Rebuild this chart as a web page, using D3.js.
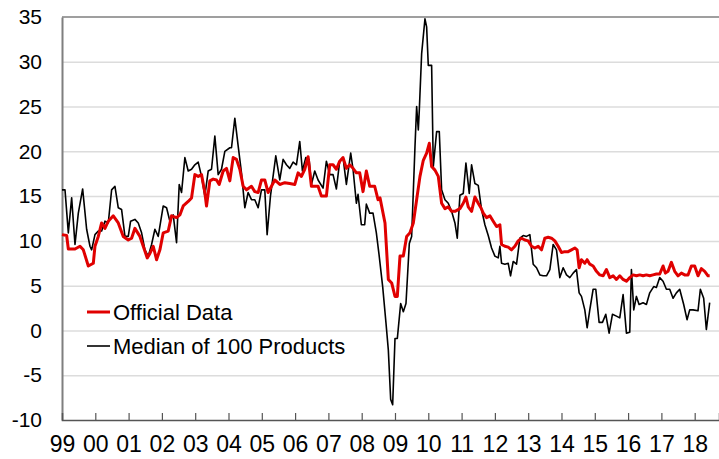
<!DOCTYPE html>
<html>
<head>
<meta charset="utf-8">
<script src="https://cdn.jsdelivr.net/npm/d3@7"></script>
<style>
  body { margin: 0; background: #fff; }
  svg text { font-family: "Liberation Sans", Arial, sans-serif; fill: #000; }
</style>
</head>
<body>
<script>
const w = 719;
const h = 459;

// y ticks and x labels
const yTicks = [-10, -5, 0, 5, 10, 15, 20, 25, 30, 35];
const yearLabels = ['99','00','01','02','03','04','05','06','07','08','09','10','11','12','13','14','15','16','17','18'];

// Official Data (red)
const officialDates = [1999.00,1999.14,1999.19,1999.39,1999.54,1999.64,1999.79,1999.94,1999.99,2000.09,2000.19,2000.29,2000.39,2000.54,2000.69,2000.84,2000.99,2001.09,2001.19,2001.34,2001.44,2001.56,2001.64,2001.74,2001.84,2001.94,2002.04,2002.19,2002.29,2002.44,2002.54,2002.64,2002.79,2002.89,2002.99,2003.09,2003.19,2003.29,2003.34,2003.44,2003.54,2003.64,2003.72,2003.84,2003.94,2004.04,2004.14,2004.24,2004.34,2004.44,2004.54,2004.69,2004.79,2004.89,2004.99,2005.09,2005.19,2005.29,2005.39,2005.54,2005.69,2005.84,2005.99,2006.09,2006.19,2006.29,2006.39,2006.49,2006.59,2006.69,2006.79,2006.94,2007.04,2007.14,2007.24,2007.34,2007.44,2007.54,2007.64,2007.74,2007.84,2007.94,2008.04,2008.14,2008.24,2008.39,2008.49,2008.55,2008.70,2008.80,2008.90,2009.00,2009.07,2009.15,2009.25,2009.35,2009.45,2009.55,2009.65,2009.75,2009.85,2009.95,2010.03,2010.10,2010.20,2010.30,2010.40,2010.50,2010.60,2010.70,2010.80,2010.95,2011.05,2011.13,2011.20,2011.30,2011.40,2011.50,2011.58,2011.65,2011.75,2011.85,2011.95,2012.05,2012.15,2012.20,2012.30,2012.40,2012.50,2012.60,2012.70,2012.80,2012.90,2013.00,2013.10,2013.20,2013.30,2013.40,2013.50,2013.60,2013.70,2013.80,2013.90,2014.00,2014.10,2014.20,2014.30,2014.40,2014.47,2014.53,2014.60,2014.70,2014.77,2014.85,2014.95,2015.05,2015.15,2015.25,2015.35,2015.45,2015.55,2015.65,2015.75,2015.85,2015.95,2016.05,2016.15,2016.25,2016.35,2016.45,2016.55,2016.65,2016.75,2016.85,2016.95,2017.05,2017.12,2017.20,2017.30,2017.40,2017.50,2017.60,2017.70,2017.80,2017.90,2018.00,2018.10,2018.20,2018.30,2018.40,2018.45];
const officialValues = [10.7,10.6,9.1,9.1,9.4,9.0,7.2,7.5,9.4,10.5,12.0,11.4,12.2,12.8,12.0,10.5,10.1,10.3,11.4,10.5,9.4,8.1,8.6,9.4,7.9,9.0,10.9,11.1,12.8,12.6,12.9,13.9,14.4,14.8,17.4,17.2,17.4,15.4,13.9,16.7,16.9,16.8,16.3,17.8,18.1,16.7,19.3,19.1,18.0,16.1,15.7,16.1,15.5,15.4,16.8,16.8,15.4,16.1,16.8,16.3,16.5,16.4,16.3,17.6,17.2,18.0,19.4,16.1,16.1,16.1,15.0,15.0,18.5,18.5,18.0,18.9,19.3,18.1,18.5,18.1,17.6,17.6,15.5,17.8,16.1,16.1,14.6,14.8,12.0,5.7,5.3,3.8,3.8,8.3,8.3,10.5,10.9,12.0,14.6,17.2,19.0,19.8,20.9,18.3,17.9,17.2,14.2,13.6,13.8,13.3,13.3,13.6,14.2,14.9,13.8,13.3,14.9,14.2,13.7,13.1,12.6,12.8,12.2,11.6,11.8,9.6,9.4,9.3,9.0,9.4,10.0,10.3,10.1,10.0,9.4,9.2,9.4,9.0,10.3,10.4,10.3,10.0,9.4,8.7,8.8,8.8,9.0,9.2,9.0,7.0,7.9,7.5,7.9,7.4,7.2,6.6,6.2,6.1,6.8,5.9,6.1,5.7,6.1,5.7,5.5,5.9,6.2,6.1,6.2,6.1,6.2,6.1,6.2,6.3,6.3,7.2,6.4,6.6,7.6,6.6,6.1,6.4,6.2,6.2,7.2,7.2,6.1,6.9,6.6,6.1,6.1];

// Median of 100 Products (black)
const medianDates = [1999.00,1999.09,1999.19,1999.29,1999.39,1999.49,1999.62,1999.74,1999.84,1999.89,1999.99,2000.09,2000.19,2000.29,2000.39,2000.49,2000.59,2000.69,2000.79,2000.89,2000.99,2001.06,2001.19,2001.29,2001.39,2001.49,2001.59,2001.69,2001.79,2001.89,2002.04,2002.14,2002.24,2002.34,2002.44,2002.52,2002.59,2002.69,2002.79,2002.89,2002.99,2003.09,2003.19,2003.29,2003.39,2003.49,2003.59,2003.69,2003.79,2003.89,2004.04,2004.09,2004.19,2004.29,2004.39,2004.49,2004.59,2004.69,2004.79,2004.89,2004.99,2005.09,2005.16,2005.26,2005.42,2005.54,2005.64,2005.74,2005.84,2005.94,2006.04,2006.14,2006.22,2006.32,2006.42,2006.49,2006.59,2006.69,2006.84,2006.94,2007.04,2007.14,2007.24,2007.34,2007.44,2007.54,2007.67,2007.74,2007.84,2007.89,2007.99,2008.09,2008.14,2008.24,2008.34,2008.44,2008.52,2008.63,2008.73,2008.80,2008.87,2008.93,2009.00,2009.07,2009.17,2009.25,2009.33,2009.43,2009.50,2009.60,2009.65,2009.70,2009.73,2009.80,2009.90,2009.95,2010.00,2010.10,2010.15,2010.25,2010.33,2010.40,2010.50,2010.60,2010.70,2010.80,2010.87,2010.95,2011.05,2011.13,2011.23,2011.30,2011.40,2011.50,2011.60,2011.70,2011.80,2011.90,2012.00,2012.10,2012.15,2012.20,2012.30,2012.40,2012.47,2012.55,2012.65,2012.75,2012.85,2012.95,2013.05,2013.15,2013.25,2013.35,2013.45,2013.55,2013.65,2013.75,2013.85,2013.95,2014.05,2014.15,2014.25,2014.35,2014.45,2014.53,2014.60,2014.70,2014.77,2014.85,2014.95,2015.03,2015.13,2015.23,2015.33,2015.43,2015.53,2015.65,2015.75,2015.85,2015.95,2016.05,2016.10,2016.17,2016.25,2016.33,2016.45,2016.55,2016.65,2016.77,2016.85,2016.95,2017.05,2017.15,2017.25,2017.35,2017.45,2017.55,2017.67,2017.77,2017.85,2017.95,2018.10,2018.17,2018.27,2018.35,2018.45];
const medianValues = [15.7,15.7,10.9,14.8,9.6,13.1,15.8,11.3,9.4,9.0,10.7,11.1,11.1,12.2,12.0,15.7,16.1,13.7,13.5,10.5,10.5,12.2,12.4,12.0,10.9,9.0,8.3,9.6,11.3,10.5,13.9,13.7,12.2,12.9,9.8,16.3,15.4,19.3,17.8,18.0,18.5,18.8,17.2,15.0,17.8,18.0,21.7,17.4,18.0,20.0,20.4,20.4,23.7,20.6,17.6,13.7,15.4,14.6,14.6,13.7,15.7,15.7,10.7,15.0,19.5,16.8,19.1,18.5,18.1,18.8,18.5,21.1,17.8,19.3,19.1,16.3,17.8,16.8,15.9,18.9,17.4,17.4,15.8,18.9,19.3,16.3,19.8,18.0,14.2,15.2,11.8,11.8,14.1,13.1,13.1,10.9,8.5,4.9,0.8,-2.2,-7.7,-8.3,-0.9,-0.9,3.0,2.1,3.0,9.7,10.5,20.5,25.0,22.4,24.6,30.9,34.8,33.9,29.6,29.6,18.3,22.2,22.2,15.7,14.6,14.2,13.3,12.0,10.3,15.1,15.3,18.7,15.3,18.5,16.4,16.2,13.5,11.8,10.6,9.2,8.3,8.1,9.4,7.5,7.4,7.5,6.1,7.7,7.4,10.3,10.6,10.5,10.7,7.4,7.0,6.2,6.1,6.1,6.8,9.6,9.0,5.9,7.0,6.2,5.9,6.4,6.8,4.2,3.8,2.3,0.3,2.3,4.6,4.6,0.9,0.9,1.8,-0.3,1.8,1.6,1.4,4.0,-0.3,-0.2,6.8,2.3,3.8,2.9,3.1,2.9,4.2,4.9,4.8,5.9,5.5,4.6,4.6,3.6,4.2,4.6,2.9,1.2,2.3,2.3,2.2,4.6,3.6,0.1,3.1];

const official = officialDates.map((d, i) => ({ x: d, y: officialValues[i] }));
const median = medianDates.map((d, i) => ({ x: d, y: medianValues[i] }));

const plotLeft = 62, plotRight = 719, plotTop = 17, plotBottom = 420;

const xScale = d3.scaleLinear().domain([1999, 2018.73]).range([plotLeft, plotRight]);
const yScale = d3.scaleLinear().domain([-10, 35]).range([plotBottom, plotTop]);

const svg = d3.select('body').append('svg')
              .attr('width', w)
              .attr('height', h);

// gridlines
const grid = svg.append('g')
    .attr('transform', 'translate(' + plotLeft + ',0)')
    .call(d3.axisLeft(yScale).tickValues(yTicks.filter(t => t > -10 && t < 35))
            .tickSize(-(plotRight - plotLeft)).tickFormat(''));
grid.select('.domain').remove();
grid.selectAll('line').attr('stroke', '#dcdcdc').attr('stroke-width', 1.5);

// top border
svg.append('line')
   .attr('x1', plotLeft).attr('x2', plotRight)
   .attr('y1', yScale(35)).attr('y2', yScale(35))
   .attr('stroke', '#7f7f7f').attr('stroke-width', 1.5);

// y axis (plain hyphen for negatives, as in the source)
const yAxis = svg.append('g')
    .attr('transform', 'translate(' + plotLeft + ',0)')
    .call(d3.axisLeft(yScale).tickValues(yTicks).tickSize(0).tickPadding(20)
            .tickFormat(d => String(d)));
yAxis.select('.domain').attr('stroke', '#7f7f7f').attr('stroke-width', 2);
yAxis.selectAll('text').attr('font-size', 21).attr('font-family', null);

// x axis ticks
const xTicks = svg.append('g')
    .attr('transform', 'translate(0,' + plotBottom + ')')
    .call(d3.axisBottom(xScale).tickValues(d3.range(2000, 2019)).tickSize(-7).tickFormat(''));
xTicks.select('.domain').attr('stroke', '#555').attr('stroke-width', 1.5);
xTicks.selectAll('line').attr('stroke', '#555').attr('stroke-width', 1.2);

// x axis labels
const xLabels = svg.append('g')
    .attr('transform', 'translate(0,' + plotBottom + ')')
    .call(d3.axisBottom(xScale).tickValues(d3.range(1999, 2019)).tickSize(0).tickPadding(16)
            .tickFormat((d, i) => yearLabels[i]));
xLabels.select('.domain').remove();
xLabels.selectAll('text').attr('font-size', 23).attr('font-family', null);

const line = d3.line().x(d => xScale(d.x)).y(d => yScale(d.y));

svg.append('path')
   .datum(median)
   .attr('d', line)
   .attr('fill', 'none')
   .attr('stroke', '#000')
   .attr('stroke-width', 1.6)
   .attr('stroke-linejoin', 'round');

svg.append('path')
   .datum(official)
   .attr('d', line)
   .attr('fill', 'none')
   .attr('stroke', '#e00000')
   .attr('stroke-width', 3)
   .attr('stroke-linejoin', 'round');

// legend
const legend = svg.append('g');
legend.append('line')
      .attr('x1', 87).attr('x2', 110).attr('y1', 312).attr('y2', 312)
      .attr('stroke', '#e00000').attr('stroke-width', 3);
legend.append('text')
      .attr('x', 113).attr('y', 320)
      .attr('font-size', 22)
      .text('Official Data');
legend.append('line')
      .attr('x1', 87).attr('x2', 110).attr('y1', 346).attr('y2', 346)
      .attr('stroke', '#000').attr('stroke-width', 1.6);
legend.append('text')
      .attr('x', 113).attr('y', 354)
      .attr('font-size', 22)
      .text('Median of 100 Products');
</script>
</body>
</html>
